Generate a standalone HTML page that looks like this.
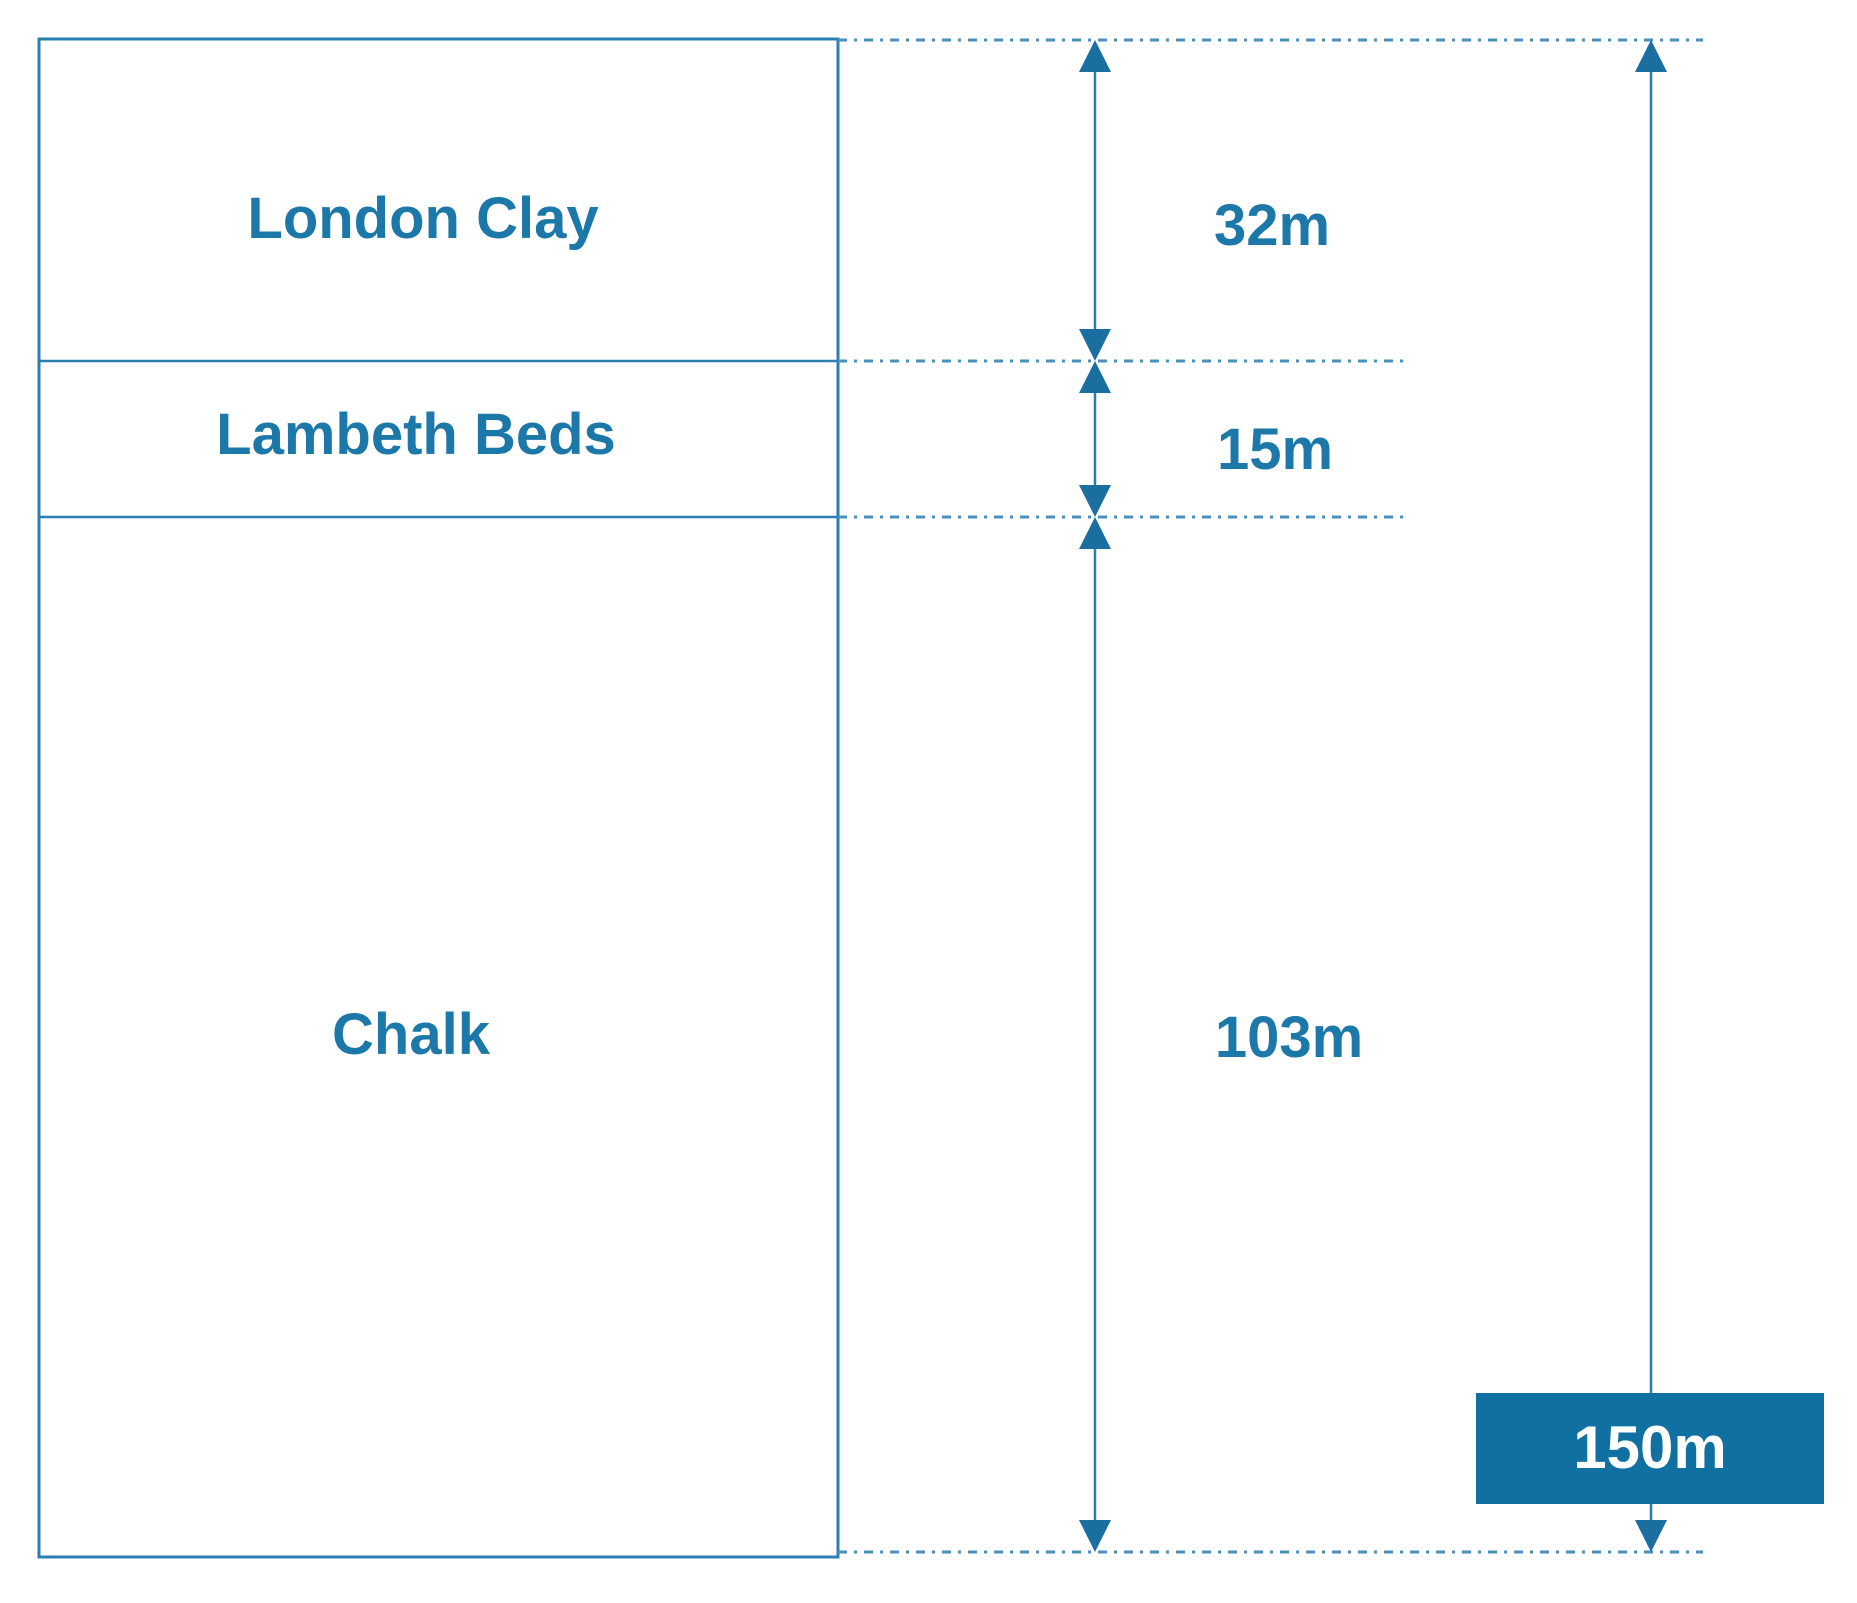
<!DOCTYPE html>
<html><head><meta charset="utf-8"><style>
html,body{margin:0;padding:0;background:#fff}
svg{display:block}
text{font-family:"Liberation Sans",Arial,sans-serif;font-weight:bold;fill:#1b78a8;text-anchor:middle}
</style></head><body>
<svg width="1857" height="1603" viewBox="0 0 1857 1603" xmlns="http://www.w3.org/2000/svg">
<g stroke="#2a7fb0" fill="none">
<rect x="39" y="39" width="799" height="1518" stroke-width="3"/>
<line x1="39" y1="361" x2="838" y2="361" stroke-width="2.5"/>
<line x1="39" y1="517" x2="838" y2="517" stroke-width="2.5"/>
<g stroke-width="3" stroke-dasharray="9 7 3 7" stroke="#4a90bd">
<line x1="838" y1="40" x2="1703" y2="40"/>
<line x1="838" y1="361" x2="1407" y2="361"/>
<line x1="838" y1="517" x2="1407" y2="517"/>
<line x1="838" y1="1552" x2="1703" y2="1552"/>
</g>
<line x1="1095" y1="60" x2="1095" y2="340" stroke-width="2.5"/>
<line x1="1095" y1="380" x2="1095" y2="497" stroke-width="2.5"/>
<line x1="1095" y1="537" x2="1095" y2="1532" stroke-width="2.5"/>
<line x1="1651" y1="60" x2="1651" y2="1532" stroke-width="2.5"/>
</g>
<g fill="#1a6fa0">
<polygon points="1095,40 1079,72 1111,72"/>
<polygon points="1095,361 1079,329 1111,329"/>
<polygon points="1095,361 1079,393 1111,393"/>
<polygon points="1095,517 1079,485 1111,485"/>
<polygon points="1095,517 1079,549 1111,549"/>
<polygon points="1095,1552 1079,1520 1111,1520"/>
<polygon points="1651,40 1635,72 1667,72"/>
<polygon points="1651,1552 1635,1520 1667,1520"/>
</g>
<rect x="1476" y="1393" width="348" height="111" fill="#0f70a1"/>
<text x="423" y="238" font-size="58">London Clay</text>
<text x="416" y="454" font-size="58">Lambeth Beds</text>
<text x="411" y="1054" font-size="58">Chalk</text>
<text x="1272" y="245" font-size="58">32m</text>
<text x="1275" y="469" font-size="58">15m</text>
<text x="1289" y="1057" font-size="58">103m</text>
<text x="1650" y="1468" font-size="60" style="fill:#fff">150m</text>
</svg>
</body></html>
